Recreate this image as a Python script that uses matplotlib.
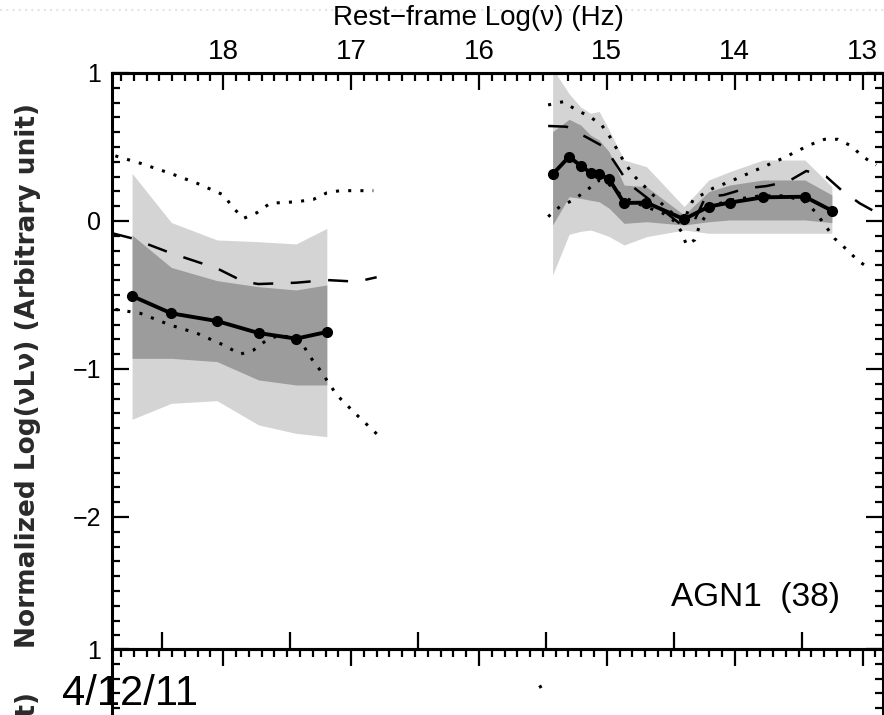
import numpy as np
import matplotlib.pyplot as plt
from matplotlib.lines import Line2D
from matplotlib.ticker import MultipleLocator, FixedLocator, NullFormatter

# X-ray part of the median SED (rest-frame log nu)
xray_nu = [18.713, 18.406, 18.049, 17.724, 17.430, 17.190]
xray_med = [-0.507, -0.624, -0.676, -0.757, -0.795, -0.750]
xray_hi90 = [0.322, -0.010, -0.128, -0.140, -0.155, -0.050]
xray_lo90 = [-1.340, -1.232, -1.214, -1.378, -1.435, -1.457]
xray_hi68 = [-0.095, -0.314, -0.403, -0.444, -0.466, -0.432]
xray_lo68 = [-0.928, -0.928, -0.950, -1.074, -1.108, -1.108]

# optical / IR part
opt_nu = [15.424, 15.295, 15.205, 15.127, 15.060, 14.982, 14.865,
          14.690, 14.396, 14.203, 14.039, 13.779, 13.451, 13.240]
opt_med = [0.316, 0.434, 0.374, 0.326, 0.316, 0.282, 0.122,
           0.124, 0.012, 0.097, 0.124, 0.160, 0.164, 0.070]
opt_hi90 = [1.030, 0.860, 0.770, 0.728, 0.740, 0.615, 0.412,
            0.367, 0.097, 0.277, 0.333, 0.412, 0.412, 0.232]
opt_lo90 = [-0.365, -0.090, -0.070, -0.061, -0.080, -0.105, -0.162,
            -0.106, -0.061, -0.083, -0.083, -0.083, -0.083, -0.083]
opt_hi68 = [0.604, 0.687, 0.649, 0.580, 0.547, 0.468, 0.243,
            0.232, 0.041, 0.198, 0.243, 0.277, 0.277, 0.176]
opt_lo68 = [-0.027, 0.164, 0.153, 0.140, 0.130, 0.086, -0.016,
            -0.005, -0.027, -0.005, 0.007, 0.007, 0.007, -0.011]

# template curves (dashed = mean, dotted = envelopes)
dash_x_nu = [18.867, 18.713, 18.406, 18.049, 17.840, 17.724, 17.430, 17.190, 16.955, 16.800]
dash_x = [-0.083, -0.117, -0.218, -0.320, -0.410, -0.426, -0.417, -0.399, -0.410, -0.380]
dotu_x_nu = [18.844, 18.648, 18.414, 18.205, 17.998, 17.920, 17.840, 17.737,
             17.633, 17.424, 17.295, 17.190, 17.086, 16.826]
dotu_x = [0.440, 0.390, 0.322, 0.255, 0.176, 0.086, 0.018, 0.056,
          0.120, 0.130, 0.146, 0.190, 0.205, 0.205]
dotl_x_nu = [18.844, 18.648, 18.414, 18.205, 17.998, 17.867, 17.763, 17.659,
             17.555, 17.399, 17.321, 17.243, 17.112, 16.955, 16.799]
dotl_x = [-0.597, -0.624, -0.703, -0.759, -0.838, -0.900, -0.872, -0.804,
          -0.770, -0.804, -0.917, -1.007, -1.176, -1.311, -1.439]

dash_o_nu = [15.459, 15.315, 15.159, 15.016, 14.920, 14.833, 14.600, 14.416, 14.313,
             14.229, 14.084, 13.909, 13.752, 13.584, 13.440, 13.284, 13.166, 13.023, 12.880]
dash_o = [0.642, 0.637, 0.566, 0.498, 0.372, 0.255, 0.100, -0.027, 0.007,
          0.160, 0.176, 0.221, 0.236, 0.266, 0.338, 0.300, 0.209, 0.120, 0.052]
dotu_o_nu = [15.459, 15.342, 15.237, 15.133, 15.041, 14.977, 14.873, 14.795, 14.690,
             14.560, 14.456, 14.400, 14.326, 14.170, 14.039, 13.830, 13.623, 13.414,
             13.297, 13.193, 13.088, 12.998, 12.893]
dotu_o = [0.784, 0.806, 0.750, 0.705, 0.649, 0.570, 0.412, 0.311, 0.221,
          0.108, 0.029, 0.000, 0.142, 0.221, 0.266, 0.345, 0.424, 0.514,
          0.552, 0.552, 0.507, 0.434, 0.378]
dotl_o_nu = [15.459, 15.367, 15.263, 15.172, 15.055, 14.977, 14.873, 14.768, 14.664,
             14.560, 14.482, 14.416, 14.377, 14.313, 14.273, 14.180, 14.040, 13.800,
             13.600, 13.450, 13.370, 13.220, 13.120, 13.040, 12.950]
dotl_o = [0.029, 0.097, 0.142, 0.198, 0.277, 0.243, 0.164, 0.120, 0.086,
          0.052, 0.007, -0.072, -0.162, -0.128, -0.027, 0.100, 0.140, 0.170,
          0.170, 0.130, 0.063, -0.117, -0.196, -0.264, -0.320]

# fragment of the next panel
next_nu = [15.53, 15.49, 15.45]
next_y = [0.74, 0.76, 0.77]

lam_ticks = [18.477 - k for k in range(6)]  # log lambda (A) = 0..5
nu_ticks = [18, 17, 16, 15, 14, 13]

LIGHT = '#d4d4d4'
DARK = '#9c9c9c'
sans = ['Liberation Sans', 'DejaVu Sans']
ylabel = 'Normalized Log(\u03bdL\u03bd) (Arbitrary unit)'

fig = plt.figure(figsize=(8.84, 7.15), dpi=100)
W, H = 884.0, 715.0
x0, x1, y0, y1 = 112, 883, 73, 649

# faint dotted rule at the top of the slide
fig.add_artist(Line2D([0, 1], [1 - 10 / H, 1 - 10 / H], transform=fig.transFigure,
                      color='#e4e4e4', lw=1.5, ls=(0, (1, 2))))


def style_y(a, ticks, labels):
    a.set_yticks(ticks)
    a.set_yticklabels(labels)
    a.yaxis.set_minor_locator(MultipleLocator(0.1))
    a.tick_params(axis='y', which='major', direction='in', length=12, width=1.6,
                  left=True, right=True, labelsize=18, pad=8)
    a.tick_params(axis='y', which='minor', direction='in', length=5.5, width=1.6,
                  left=True, right=True)
    for lab in a.get_yticklabels():
        lab.set_family(sans)
    for s in a.spines.values():
        s.set_linewidth(2.2)


ax = fig.add_axes([x0 / W, 1 - y1 / H, (x1 - x0) / W, (y1 - y0) / H])
ax.set_xlim(18.87, 12.84)
ax.set_ylim(-2.892, 1.0)

for nu, lo, hi, col in [(xray_nu, xray_lo90, xray_hi90, LIGHT), (xray_nu, xray_lo68, xray_hi68, DARK),
                        (opt_nu, opt_lo90, opt_hi90, LIGHT), (opt_nu, opt_lo68, opt_hi68, DARK)]:
    ax.fill_between(nu, lo, hi, color=col, lw=0, zorder=1)

dash = (0, (8, 7))
dot = (0, (1, 3))
ax.plot(dash_x_nu, dash_x, color='black', lw=1.8, ls=dash, zorder=3)
ax.plot(dash_o_nu, dash_o, color='black', lw=1.8, ls=dash, zorder=3)
for nu, y in [(dotu_x_nu, dotu_x), (dotl_x_nu, dotl_x), (dotu_o_nu, dotu_o), (dotl_o_nu, dotl_o)]:
    ax.plot(nu, y, color='black', lw=2.2, ls=dot, zorder=3)

ax.plot(xray_nu, xray_med, color='black', lw=2.8, marker='o', ms=7, zorder=4)
ax.plot(opt_nu, opt_med, color='black', lw=2.8, marker='o', ms=7, zorder=4)

style_y(ax, [1, 0, -1, -2], ['1', '0', '\u22121', '\u22122'])

# bottom: wavelength ticks, no labels
ax.xaxis.set_major_locator(FixedLocator(lam_ticks))
ax.xaxis.set_major_formatter(NullFormatter())
ax.tick_params(axis='x', which='major', direction='in', length=12, width=1.6, bottom=True, top=False)
ax.tick_params(axis='x', which='minor', bottom=False, top=False)

# top: rest-frame frequency
sec = ax.secondary_xaxis('top')
sec.set_xticks(nu_ticks)
sec.xaxis.set_minor_locator(MultipleLocator(0.1))
sec.tick_params(which='major', direction='in', length=12, width=1.6, pad=6)
sec.tick_params(which='minor', direction='in', length=5.5, width=1.6)
sec.spines['top'].set_linewidth(2.2)
for lab in sec.get_xticklabels():
    lab.set_family(sans)
    lab.set_fontsize(20)

ax.text(0.834, 0.089, 'AGN1  (38)', transform=ax.transAxes, ha='center', va='center',
        fontsize=24, family=sans)

fig.text(478 / W, 1 - 18 / H, 'Rest\u2212frame Log(\u03bd) (Hz)', ha='center', va='center',
         fontsize=20, family=sans)
fig.text(28 / W, 1 - 376 / H, ylabel, rotation=90,
         ha='center', va='center', fontsize=19, fontweight='bold', color='#2a2a2a')

# next panel (cut off by the slide)
ax2 = fig.add_axes([x0 / W, 1 - (y1 + (y1 - y0)) / H, (x1 - x0) / W, (y1 - y0) / H])
ax2.set_xlim(18.87, 12.84)
ax2.set_ylim(-2.892, 1.0)
ax2.patch.set_alpha(0)
ax2.plot(next_nu, next_y, color='black', lw=2.2, ls=dot)
ax2.xaxis.set_major_locator(FixedLocator(nu_ticks))
ax2.xaxis.set_minor_locator(MultipleLocator(0.1))
ax2.xaxis.set_major_formatter(NullFormatter())
ax2.tick_params(axis='x', which='major', direction='in', length=12, width=1.6, top=True, bottom=False)
ax2.tick_params(axis='x', which='minor', direction='in', length=5.5, width=1.6, top=True, bottom=False)
style_y(ax2, [1], ['1'])
fig.text(28 / W, 1 - 692 / H, ylabel, rotation=90,
         ha='center', va='top', fontsize=19, fontweight='bold', color='#2a2a2a')

fig.text(62 / W, 1 - 705 / H, '4/12/11', ha='left', va='baseline', fontsize=30, family=sans)

fig.savefig('out.png', dpi=100)
